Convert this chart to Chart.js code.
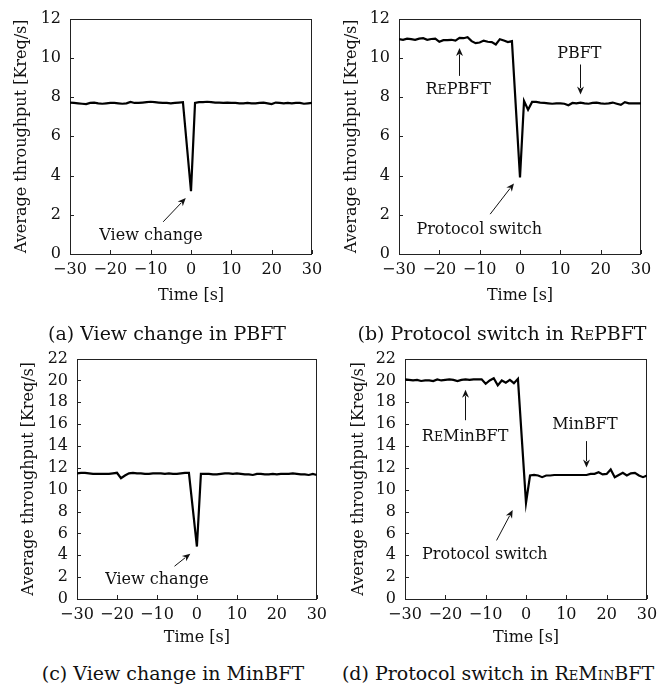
<!DOCTYPE html>
<html>
<head>
<meta charset="utf-8">
<script src="https://cdn.jsdelivr.net/npm/chart.js@4"></script>
<style>
  body { margin: 0; background: #fff; }
  #wrap { position: relative; width: 667px; height: 692px; }
  canvas { position: absolute; }
  .cap { position: absolute; width: 330px; text-align: center; font: 19px "DejaVu Serif", serif; color: #111; line-height: 24px; }
  .sc { font-variant: small-caps; }
</style>
</head>
<body>
<div id="wrap">
  <canvas id="cA" style="left:0;top:0" width="333" height="305"></canvas>
  <canvas id="cB" style="left:333px;top:0" width="334" height="305"></canvas>
  <canvas id="cC" style="left:0;top:340px" width="333" height="307"></canvas>
  <canvas id="cD" style="left:333px;top:340px" width="334" height="307"></canvas>
  <div class="cap" style="left:2px;top:321px">(a) View change in PBFT</div>
  <div class="cap" style="left:337px;top:321px">(b) Protocol switch in R<span class="sc">e</span>PBFT</div>
  <div class="cap" style="left:8px;top:661px">(c) View change in MinBFT</div>
  <div class="cap" style="left:333px;top:661px">(d) Protocol switch in R<span class="sc">e</span>M<span class="sc">in</span>BFT</div>
</div>
<script>
// Zeitachse in Sekunden (um 0 herum fehlt -1, die Linie fällt direkt ab)
const times = [
  -30, -29, -28, -27, -26, -25, -24, -23, -22, -21, -20, -19, -18, -17, -16,
  -15, -14, -13, -12, -11, -10, -9, -8, -7, -6, -5, -4, -3, -2,
  0, 1, 2, 3, 4, 5, 6, 7, 8, 9, 10, 11, 12, 13, 14, 15,
  16, 17, 18, 19, 20, 21, 22, 23, 24, 25, 26, 27, 28, 29, 30
];

// (a) View change in PBFT
const pbftView = [
  7.72, 7.70, 7.68, 7.66, 7.64, 7.70, 7.72, 7.68, 7.66, 7.68, 7.70, 7.70, 7.68, 7.66, 7.68,
  7.75, 7.70, 7.70, 7.72, 7.74, 7.76, 7.74, 7.72, 7.70, 7.70, 7.68, 7.70, 7.72, 7.74,
  3.20, 7.70, 7.74, 7.74, 7.76, 7.74, 7.72, 7.72, 7.70, 7.72, 7.70, 7.70, 7.68, 7.68, 7.70, 7.68,
  7.68, 7.70, 7.72, 7.68, 7.64, 7.72, 7.70, 7.68, 7.70, 7.68, 7.70, 7.70, 7.66, 7.68, 7.70
];

// (b) Protocol switch in RePBFT
const repbftSwitch = [
  10.95, 10.92, 10.98, 10.95, 10.92, 10.98, 11.00, 10.92, 10.96, 10.98, 10.82, 10.90, 10.90, 10.92, 10.88,
  11.02, 11.00, 11.05, 10.85, 10.75, 10.78, 10.88, 10.82, 10.80, 10.68, 10.95, 10.88, 10.80, 10.85,
  3.90, 7.80, 7.35, 7.75, 7.75, 7.72, 7.70, 7.68, 7.66, 7.68, 7.68, 7.66, 7.58, 7.70, 7.68, 7.72,
  7.68, 7.66, 7.70, 7.72, 7.68, 7.66, 7.68, 7.72, 7.66, 7.60, 7.74, 7.68, 7.68, 7.68, 7.68
];

// (c) View change in MinBFT
const minbftView = [
  11.50, 11.55, 11.55, 11.50, 11.45, 11.45, 11.45, 11.45, 11.45, 11.50, 11.55, 11.05, 11.30, 11.50, 11.55,
  11.50, 11.50, 11.45, 11.45, 11.50, 11.50, 11.50, 11.45, 11.50, 11.45, 11.45, 11.50, 11.55, 11.55,
  4.80, 11.45, 11.45, 11.45, 11.40, 11.40, 11.45, 11.50, 11.50, 11.45, 11.50, 11.45, 11.40, 11.40, 11.35, 11.45,
  11.45, 11.40, 11.40, 11.45, 11.40, 11.45, 11.45, 11.45, 11.50, 11.45, 11.40, 11.40, 11.35, 11.45, 11.35
];

// (d) Protocol switch in ReMinBFT
const reminbftSwitch = [
  20.10, 20.05, 20.00, 20.05, 19.95, 20.00, 20.00, 19.95, 20.10, 20.00, 20.05, 20.10, 20.05, 19.95, 20.05,
  20.10, 20.05, 20.10, 20.10, 20.10, 19.70, 20.00, 20.20, 19.55, 20.00, 19.80, 20.05, 19.75, 20.15,
  8.80, 11.30, 11.35, 11.30, 11.15, 11.30, 11.30, 11.35, 11.35, 11.35, 11.35, 11.35, 11.35, 11.35, 11.35, 11.35,
  11.45, 11.45, 11.60, 11.40, 11.45, 11.85, 11.15, 11.35, 11.55, 11.30, 11.50, 11.55, 11.30, 11.15, 11.30
];

const xTicks = [-30, -20, -10, 0, 10, 20, 30];
const FONT = '"DejaVu Serif", serif';

// Rahmen, Ticks nach innen, Pfeile und Beschriftungen
const framePlugin = {
  id: 'frame',
  beforeDatasetsDraw(chart) {
    const { ctx, chartArea: a, scales: { x, y } } = chart;
    ctx.save();
    ctx.strokeStyle = '#222';
    ctx.lineWidth = 1;
    ctx.beginPath();
    x.ticks.forEach(t => {
      const px = Math.round(x.getPixelForValue(t.value)) + 0.5;
      ctx.moveTo(px, a.bottom);
      ctx.lineTo(px, a.bottom - 4);
    });
    y.ticks.forEach(t => {
      const py = Math.round(y.getPixelForValue(t.value)) + 0.5;
      ctx.moveTo(a.left, py);
      ctx.lineTo(a.left + 4, py);
    });
    ctx.stroke();
    ctx.strokeRect(Math.round(a.left) + 0.5, Math.round(a.top) + 0.5, Math.round(a.width) - 1, Math.round(a.height));
    ctx.restore();
  },
  afterDatasetsDraw(chart, args, opts) {
    const { ctx, scales: { x, y } } = chart;
    ctx.save();
    ctx.fillStyle = '#111';
    ctx.strokeStyle = '#111';
    (opts.arrows || []).forEach(ar => {
      const x1 = x.getPixelForValue(ar.from[0]), y1 = y.getPixelForValue(ar.from[1]);
      const x2 = x.getPixelForValue(ar.to[0]), y2 = y.getPixelForValue(ar.to[1]);
      const ang = Math.atan2(y2 - y1, x2 - x1);
      const hl = 8, hw = 3.5;
      ctx.lineWidth = 1;
      ctx.beginPath();
      ctx.moveTo(x1, y1);
      ctx.lineTo(x2 - Math.cos(ang) * hl * 0.8, y2 - Math.sin(ang) * hl * 0.8);
      ctx.stroke();
      ctx.beginPath();
      ctx.moveTo(x2, y2);
      ctx.lineTo(x2 - Math.cos(ang) * hl - Math.sin(ang) * hw, y2 - Math.sin(ang) * hl + Math.cos(ang) * hw);
      ctx.lineTo(x2 - Math.cos(ang) * hl * 0.7, y2 - Math.sin(ang) * hl * 0.7);
      ctx.lineTo(x2 - Math.cos(ang) * hl + Math.sin(ang) * hw, y2 - Math.sin(ang) * hl - Math.cos(ang) * hw);
      ctx.closePath();
      ctx.fill();
    });
    (opts.notes || []).forEach(n => {
      const cx = x.getPixelForValue(n.x), cy = y.getPixelForValue(n.y);
      let w = 0;
      n.parts.forEach(([s, sc]) => {
        ctx.font = (sc ? '12.5px ' : '16px ') + FONT;
        w += ctx.measureText(s).width;
      });
      let px = cx - w / 2;
      ctx.textAlign = 'left';
      ctx.textBaseline = 'alphabetic';
      n.parts.forEach(([s, sc]) => {
        ctx.font = (sc ? '12.5px ' : '16px ') + FONT;
        ctx.fillText(s, px, cy + 5);
        px += ctx.measureText(s).width;
      });
    });
    ctx.restore();
  }
};

function makeChart(id, values, yMax, g, notes, arrows) {
  return new Chart(document.getElementById(id), {
    type: 'line',
    data: {
      datasets: [{
        data: times.map((t, i) => ({ x: t, y: values[i] })),
        borderColor: '#000',
        borderWidth: 2.2,
        pointRadius: 0,
        tension: 0,
        fill: false
      }]
    },
    options: {
      responsive: false,
      animation: false,
      layout: { padding: { left: 0, top: g.top, right: g.right, bottom: 0 } },
      plugins: {
        legend: { display: false },
        tooltip: { enabled: false },
        frame: { notes: notes, arrows: arrows }
      },
      scales: {
        x: {
          type: 'linear',
          min: -30,
          max: 30,
          afterBuildTicks: s => { s.ticks = xTicks.map(v => ({ value: v })); },
          afterFit: s => { s.height = g.xh; },
          grid: { display: false, drawTicks: false },
          border: { display: false },
          ticks: {
            color: '#111',
            padding: 6,
            maxRotation: 0,
            autoSkip: false,
            font: { family: FONT, size: 16 },
            callback: v => v < 0 ? '\u2212' + Math.abs(v) : String(v)
          },
          title: {
            display: true,
            text: 'Time [s]',
            color: '#111',
            font: { family: FONT, size: 16 },
            padding: { top: 2, bottom: 0 }
          }
        },
        y: {
          min: 0,
          max: yMax,
          afterFit: s => { s.width = g.yw; },
          grid: { display: false, drawTicks: false },
          border: { display: false },
          ticks: {
            stepSize: 2,
            color: '#111',
            padding: 9,
            autoSkip: false,
            font: { family: FONT, size: 16 }
          },
          title: {
            display: true,
            text: 'Average throughput [Kreq/s]',
            color: '#111',
            font: { family: FONT, size: 16 },
            padding: { top: g.tp, bottom: 0 }
          }
        }
      }
    },
    plugins: [framePlugin]
  });
}

makeChart('cA', pbftView, 12, { top: 13, right: 21, xh: 51, yw: 70, tp: 12 },
  [{ x: -9.9, y: 0.95, parts: [['View change', 0]] }],
  [{ from: [-6.9, 1.64], to: [-1.3, 2.85] }]);

makeChart('cB', repbftSwitch, 12, { top: 13, right: 26, xh: 51, yw: 66, tp: 9 },
  [
    { x: -15.3, y: 8.42, parts: [['R', 0], ['E', 1], ['PBFT', 0]] },
    { x: 14.7, y: 10.24, parts: [['PBFT', 0]] },
    { x: -10.1, y: 1.28, parts: [['Protocol switch', 0]] }
  ],
  [
    { from: [-15, 9.08], to: [-15, 10.5] },
    { from: [15, 9.66], to: [15, 8.13] },
    { from: [-7.4, 2.03], to: [-1.5, 3.6] }
  ]);

makeChart('cC', minbftView, 22, { top: 17, right: 15, xh: 48, yw: 77, tp: 19 },
  [{ x: -10, y: 1.79, parts: [['View change', 0]] }],
  [{ from: [-5.6, 3.0], to: [-1.65, 4.15] }]);

makeChart('cD', reminbftSwitch, 22, { top: 17, right: 20, xh: 48, yw: 72, tp: 16 },
  [
    { x: -15.1, y: 14.9, parts: [['R', 0], ['E', 1], ['MinBFT', 0]] },
    { x: 14.6, y: 15.97, parts: [['MinBFT', 0]] },
    { x: -10.2, y: 4.15, parts: [['Protocol switch', 0]] }
  ],
  [
    { from: [-15, 16.36], to: [-15, 19.15] },
    { from: [15, 14.45], to: [15, 12.03] },
    { from: [-7.3, 5.36], to: [-3.3, 8.15] }
  ]);
</script>
</body>
</html>
